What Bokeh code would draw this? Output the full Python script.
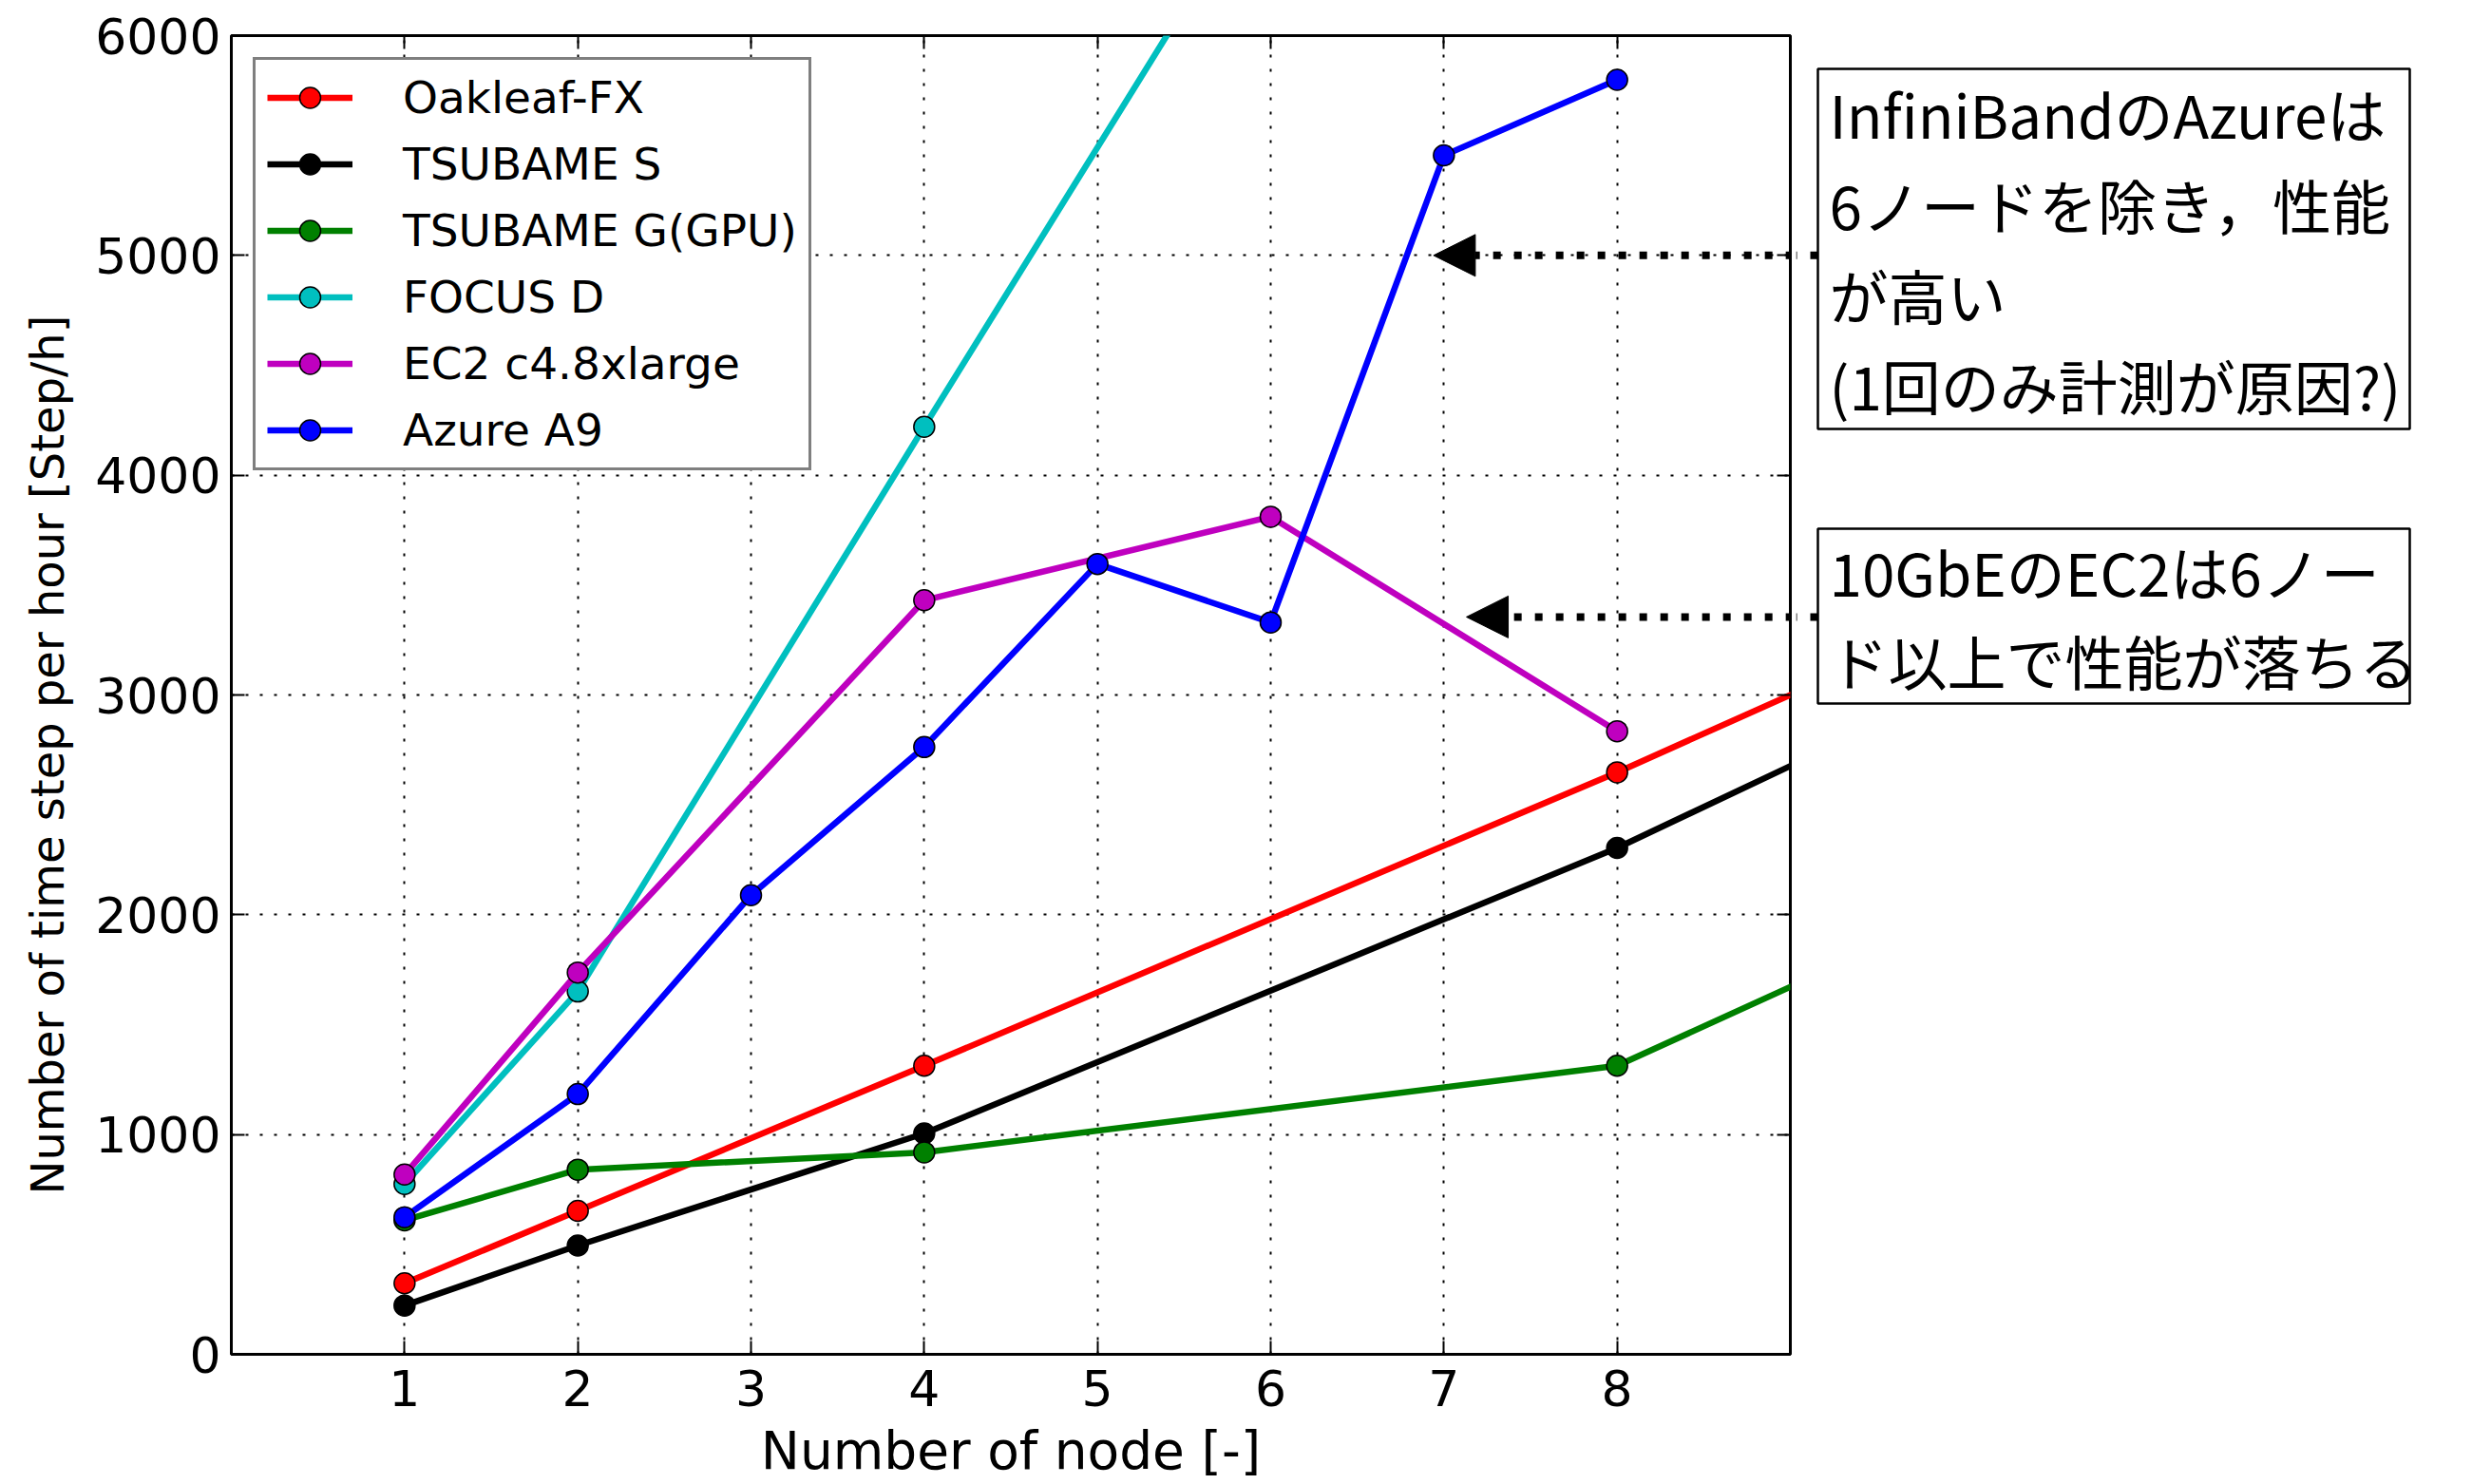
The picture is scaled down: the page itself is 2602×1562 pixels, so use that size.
from bokeh.plotting import figure
from bokeh.layouts import row
from bokeh.models import (FixedTicker, LinearAxis, Legend, LegendItem, Title,
                          Arrow, NormalHead, Range1d)
from bokeh.core.properties import value
from bokeh.embed import file_html
from bokeh.resources import INLINE

# ---------------- data ----------------
series_names = ["Oakleaf-FX", "TSUBAME S", "TSUBAME G(GPU)", "FOCUS D",
                "EC2 c4.8xlarge", "Azure A9"]
series_colors = ["#ff0000", "#000000", "#008000", "#00bfbf", "#bf00bf", "#0000ff"]

nodes_oakleaf = [1, 2, 4, 8, 16]
oakleaf_fx = [323, 653, 1313, 2648, 5464]

nodes_tsubame_s = [1, 2, 4, 8, 16]
tsubame_s = [222, 495, 1005, 2304, 5288]

nodes_tsubame_g = [1, 2, 4, 8, 16]
tsubame_g = [610, 840, 919, 1313, 4185]

nodes_focus_d = [1, 2, 4, 8]
focus_d = [775, 1651, 4220, 9305]

nodes_ec2 = [1, 2, 4, 6, 8]
ec2_c48xlarge = [818, 1737, 3431, 3811, 2835]

nodes_azure = [1, 2, 3, 4, 5, 6, 7, 8]
azure_a9 = [624, 1184, 2089, 2763, 3596, 3330, 5455, 5799]

x_ticks = [1, 2, 3, 4, 5, 6, 7, 8]
y_ticks = [0, 1000, 2000, 3000, 4000, 5000, 6000]

x_label = "Number of node [-]"
y_label = "Number of time step per hour [Step/h]"

note_azure_lines = ["InfiniBandのAzureは", "6ノードを除き，性能", "が高い", "(1回のみ計測が原因?)"]
note_ec2_lines = ["10GbEのEC2は6ノー", "ド以上で性能が落ちる"]
# arrow tips (data units) pointing at the Azure / EC2 curves
arrow_azure = dict(y=5000, x_end=6.94)
arrow_ec2 = dict(y=3355, x_end=7.13)

xs_all = [nodes_oakleaf, nodes_tsubame_s, nodes_tsubame_g, nodes_focus_d, nodes_ec2, nodes_azure]
ys_all = [oakleaf_fx, tsubame_s, tsubame_g, focus_d, ec2_c48xlarge, azure_a9]

FONT = "DejaVu Sans"
JP_FONT = "Noto Sans CJK JP"

FRAME_TOP, FRAME_BOTTOM = 37, 1425
MAIN_W = 1890
p = figure(width=MAIN_W, height=1562, output_backend="svg", toolbar_location=None,
           x_range=Range1d(0, 9), y_range=Range1d(0, 6000),
           min_border_left=243, min_border_right=6, min_border_top=FRAME_TOP,
           min_border_bottom=1562 - FRAME_BOTTOM, background_fill_color="white",
           border_fill_color="white")

p.outline_line_color = "black"
p.outline_line_width = 3

# axes
p.xaxis.ticker = FixedTicker(ticks=x_ticks)
p.yaxis.ticker = FixedTicker(ticks=y_ticks)
p.xaxis.axis_label = x_label
for ax in (p.xaxis[0], p.yaxis[0]):
    ax.axis_line_color = None
    ax.major_tick_in = 14
    ax.major_tick_out = 0
    ax.major_tick_line_color = "black"
    ax.major_tick_line_width = 2
    ax.minor_tick_line_color = None
    ax.major_label_text_font = FONT
    ax.major_label_text_font_size = "52px"
    ax.major_label_text_color = "black"
    ax.axis_label_text_font = FONT
    ax.axis_label_text_font_style = "normal"
    ax.axis_label_text_color = "black"
p.xaxis.axis_label_text_font_size = "55px"
p.xaxis.major_label_standoff = 16
p.xaxis.axis_label_standoff = 12
p.yaxis.major_label_standoff = 11

# y-axis label as a left title so it can sit where the reference puts it
p.add_layout(Title(text=y_label, align="left", offset=168, standoff=39,
                   text_font=FONT, text_font_size="48px", text_font_style="normal",
                   text_color="black"), "left")

for loc, tick in (("above", x_ticks), ("right", y_ticks)):
    ax = LinearAxis(ticker=FixedTicker(ticks=tick), axis_line_color=None,
                    major_tick_in=14, major_tick_out=0,
                    major_tick_line_color="black", major_tick_line_width=2,
                    minor_tick_line_color=None, major_label_text_font_size="1px",
                    major_label_text_color=None, major_label_standoff=0)
    p.add_layout(ax, loc)

# grid
p.xgrid.ticker = FixedTicker(ticks=x_ticks)
p.ygrid.ticker = FixedTicker(ticks=y_ticks)
for g in (p.xgrid[0], p.ygrid[0]):
    g.grid_line_color = "black"
    g.grid_line_width = 2
    g.grid_line_dash = "3 12"

# series
items = []
for name, color, xs, ys in zip(series_names, series_colors, xs_all, ys_all):
    lr = p.line(xs, ys, line_color=color, line_width=6.5)
    sr = p.scatter(xs, ys, marker="circle", size=22, fill_color=color,
                   line_color="black", line_width=1.5)
    items.append(LegendItem(label=name, renderers=[lr, sr]))

legend = Legend(items=items, location="top_left", margin=23, padding=12,
                spacing=15, glyph_width=90, glyph_height=55, label_standoff=53,
                label_text_font=FONT, label_text_font_size="47px",
                label_text_color="black",
                border_line_color="black", border_line_width=3,
                background_fill_color="white", background_fill_alpha=1.0)
p.add_layout(legend)

# arrows (inside the plot part; continued in the side panel)
ARROW_TAIL_X = 9.5
for arr in (arrow_azure, arrow_ec2):
    p.add_layout(Arrow(end=NormalHead(size=44, fill_color="black", line_color="black",
                                      line_width=1),
                       x_start=ARROW_TAIL_X, y_start=arr["y"],
                       x_end=arr["x_end"], y_end=arr["y"],
                       line_color="black", line_width=8, line_dash="8 14"))

# ---------------- side panel with the notes (canvas-pixel coordinates) ----------------
SIDE_W = 2602 - MAIN_W
q = figure(width=SIDE_W, height=1562, output_backend="svg", toolbar_location=None,
           x_range=Range1d(0, SIDE_W), y_range=Range1d(FRAME_BOTTOM, FRAME_TOP),
           min_border_left=0, min_border_right=0, min_border_top=FRAME_TOP,
           min_border_bottom=1562 - FRAME_BOTTOM,
           x_axis_location=None, y_axis_location=None,
           background_fill_color="white", border_fill_color="white")
q.outline_line_color = None
q.grid.visible = False

# arrow tails between the plot frame and the note boxes
px_per_unit = (FRAME_BOTTOM - FRAME_TOP) / 6000
for arr in (arrow_azure, arrow_ec2):
    yy = FRAME_TOP + (6000 - arr["y"]) * px_per_unit
    q.segment(x0=[23], y0=[yy], x1=[0], y1=[yy], line_color="black",
              line_width=8, line_dash="8 14")

BOX_L, BOX_R = 23, 646
q.quad(left=[BOX_L, BOX_L], right=[BOX_R, BOX_R], top=[72, 556], bottom=[451, 740],
       fill_color="white", line_color="black", line_width=2.5)

q.text(x=[35] * len(note_azure_lines), y=[118, 214, 309, 404], text=note_azure_lines,
       text_font=value(JP_FONT), text_font_size="62px", text_align="left",
       text_baseline="middle", text_color="black")
q.text(x=[35] * len(note_ec2_lines), y=[600, 694], text=note_ec2_lines,
       text_font=value(JP_FONT), text_font_size="62px", text_align="left",
       text_baseline="middle", text_color="black")

layout = row(p, q, spacing=0)
open("out.html", "w").write(file_html(layout, INLINE))
